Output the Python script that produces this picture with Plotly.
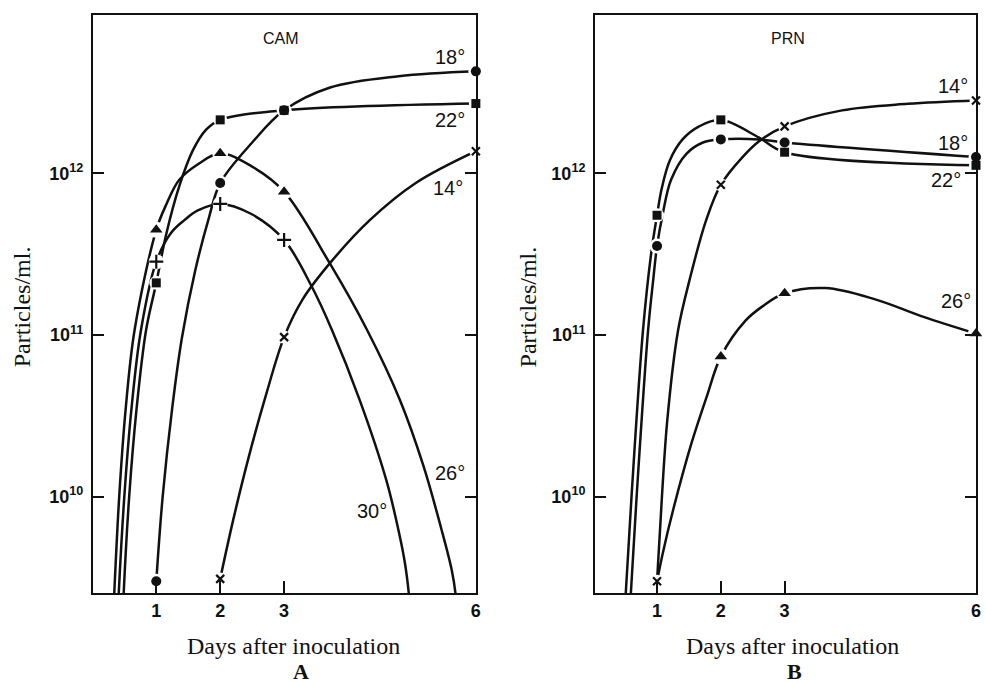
import plotly.graph_objects as go

# ---------------- values ----------------
day_ticks = [1, 2, 3, 6]
day_tick_labels = ["1", "2", "3", "6"]
y_tick_vals = [1e10, 1e11, 1e12]
y_tick_labels = ["10<sup>10</sup>", "10<sup>11</sup>", "10<sup>12</sup>"]

# Panel A (CAM): measured points
a18_days = [1, 2, 3, 6]
a18_vals = [3.0e9, 8.7e11, 2.45e12, 4.27e12]
a22_days = [1, 2, 3, 6]
a22_vals = [2.1e11, 2.14e12, 2.45e12, 2.7e12]
a14_days = [2, 3, 6]
a14_vals = [3.1e9, 9.7e10, 1.37e12]
a26_days = [1, 2, 3]
a26_vals = [4.47e11, 1.33e12, 7.7e11]
a30_days = [1, 2, 3]
a30_vals = [2.84e11, 6.46e11, 3.87e11]

# Panel A: hand-drawn curves
a18_curve_days = [1.0, 1.10, 1.25, 1.40, 1.61, 1.82, 2.0, 2.5, 3.0, 3.72, 4.79, 6.0]
a18_curve_vals = [3.0e9, 1.0e10, 3.55e10, 9.55e10, 2.51e11, 5.25e11, 8.7e11,
                  1.55e12, 2.45e12, 3.39e12, 3.98e12, 4.27e12]
a22_curve_days = [0.45, 0.49, 0.576, 0.69, 0.84, 1.0, 1.16, 1.36, 1.57, 1.78, 2.0, 3.0, 6.0]
a22_curve_vals = [1.0e9, 2.54e9, 1.0e10, 3.44e10, 1.07e11, 2.1e11, 4.27e11, 8.32e11,
                  1.38e12, 1.86e12, 2.14e12, 2.45e12, 2.7e12]
a14_curve_days = [2.0, 2.2, 2.45, 2.71, 3.0, 3.29, 3.73, 4.34, 5.06, 6.0]
a14_curve_vals = [3.1e9, 7.08e9, 1.78e10, 4.17e10, 9.7e10, 1.66e11, 2.82e11,
                  5.13e11, 8.71e11, 1.37e12]
a26_curve_days = [0.30, 0.343, 0.42, 0.52, 0.66, 1.0, 1.16, 1.36, 1.67, 2.0, 2.5, 3.0,
                  3.72, 4.30, 4.81, 5.18, 5.46, 5.62, 5.68, 5.72]
a26_curve_vals = [1.0e9, 2.54e9, 1.0e10, 3.44e10, 1.07e11, 4.47e11, 6.46e11, 9.12e11,
                  1.15e12, 1.33e12, 1.10e12, 7.7e11, 2.75e11, 1.07e11, 3.98e10,
                  1.55e10, 6.31e9, 3.55e9, 2.54e9, 1.58e9]
a30_curve_days = [0.37, 0.413, 0.50, 0.61, 0.76, 1.0, 1.23, 1.44, 1.65, 2.0, 2.48, 3.0,
                  3.43, 3.75, 4.18, 4.60, 4.79, 4.89, 4.95, 4.99]
a30_curve_vals = [1.0e9, 2.54e9, 1.0e10, 3.44e10, 1.07e11, 2.84e11, 4.27e11, 5.13e11,
                  5.89e11, 6.46e11, 5.62e11, 3.87e11, 2.0e11, 1.07e11, 3.98e10,
                  1.26e10, 6.17e9, 3.89e9, 2.54e9, 1.58e9]

# Panel B (PRN): measured points
b14_days = [1, 2, 3, 6]
b14_vals = [3.0e9, 8.5e11, 1.95e12, 2.82e12]
b18_days = [1, 2, 3, 6]
b18_vals = [3.55e11, 1.62e12, 1.55e12, 1.26e12]
b22_days = [1, 2, 3, 6]
b22_vals = [5.5e11, 2.14e12, 1.35e12, 1.12e12]
b26_days = [2, 3, 6]
b26_vals = [7.35e10, 1.81e11, 1.02e11]

# Panel B: hand-drawn curves
b14_curve_days = [1.0, 1.04, 1.16, 1.33, 1.51, 1.77, 2.0, 2.34, 2.6, 3.0, 3.9, 4.93, 6.0]
b14_curve_vals = [3.0e9, 5.62e9, 2.95e10, 1.07e11, 2.19e11, 5.13e11, 8.5e11, 1.26e12,
                  1.58e12, 1.95e12, 2.45e12, 2.69e12, 2.82e12]
b18_curve_days = [0.53, 0.59, 0.68, 0.86, 0.94, 1.0, 1.09, 1.22, 1.46, 1.72, 2.0, 2.6, 3.0, 6.0]
b18_curve_vals = [1.0e9, 2.54e9, 1.0e10, 1.07e11, 2.19e11, 3.55e11, 5.62e11, 9.12e11,
                  1.32e12, 1.55e12, 1.62e12, 1.62e12, 1.55e12, 1.26e12]
b22_curve_days = [0.45, 0.51, 0.60, 0.78, 0.91, 1.0, 1.07, 1.20, 1.40, 1.66, 2.0, 2.6, 3.0, 6.0]
b22_curve_vals = [1.0e9, 2.54e9, 1.0e10, 1.07e11, 3.24e11, 5.5e11, 7.94e11, 1.20e12,
                  1.62e12, 1.95e12, 2.14e12, 1.66e12, 1.35e12, 1.12e12]
b26_curve_days = [1.0, 1.09, 1.26, 1.54, 1.78, 2.0, 2.39, 2.65, 3.0, 3.64, 4.42, 5.19, 6.0]
b26_curve_vals = [3.0e9, 4.47e9, 8.5e9, 2.14e10, 4.17e10, 7.35e10, 1.23e11, 1.50e11,
                  1.81e11, 1.95e11, 1.66e11, 1.29e11, 1.02e11]

# ---------------- styling ----------------
INK = "#111111"
symbols = {
    "18": dict(symbol="circle", size=10),
    "22": dict(symbol="square", size=9),
    "26": dict(symbol="triangle-up", size=11),
    "30": dict(symbol="cross-thin", size=10, line=dict(color=INK, width=2.2)),
    "14": dict(symbol="x-thin", size=8, line=dict(color=INK, width=2.2)),
}

panelA = [
    ("18", a18_days, a18_vals, a18_curve_days, a18_curve_vals),
    ("22", a22_days, a22_vals, a22_curve_days, a22_curve_vals),
    ("14", a14_days, a14_vals, a14_curve_days, a14_curve_vals),
    ("26", a26_days, a26_vals, a26_curve_days, a26_curve_vals),
    ("30", a30_days, a30_vals, a30_curve_days, a30_curve_vals),
]
panelB = [
    ("14", b14_days, b14_vals, b14_curve_days, b14_curve_vals),
    ("18", b18_days, b18_vals, b18_curve_days, b18_curve_vals),
    ("22", b22_days, b22_vals, b22_curve_days, b22_curve_vals),
    ("26", b26_days, b26_vals, b26_curve_days, b26_curve_vals),
]

fig = go.Figure()

for panel, xa, ya in [(panelA, "x", "y"), (panelB, "x2", "y2")]:
    for key, d, v, cd, cv in panel:
        fig.add_trace(go.Scatter(x=cd, y=cv, mode="lines", xaxis=xa, yaxis=ya,
                                 line=dict(color=INK, width=2.5, shape="spline", smoothing=1.0),
                                 hoverinfo="skip"))
    for key, d, v, cd, cv in panel:
        m = symbols[key]
        fig.add_trace(go.Scatter(x=d, y=v, mode="markers", xaxis=xa, yaxis=ya, cliponaxis=False,
                                 marker=dict(symbol="circle", size=m["size"] + 5, color="white"),
                                 hoverinfo="skip"))
    for key, d, v, cd, cv in panel:
        m = dict(symbols[key])
        m.setdefault("color", INK)
        m.setdefault("line", dict(width=0))
        fig.add_trace(go.Scatter(x=d, y=v, mode="markers", xaxis=xa, yaxis=ya, cliponaxis=False,
                                 marker=m, name=key + "°"))

tickfont = dict(family="Liberation Sans", size=18, color=INK, weight="bold")
xcommon = dict(tickvals=day_ticks, ticktext=day_tick_labels, ticks="inside", ticklen=12,
               tickwidth=2.3, tickcolor=INK, showline=True, linewidth=2.3, linecolor=INK,
               mirror=True, showgrid=False, zeroline=False, tickfont=tickfont,
               ticklabelstandoff=0)
ycommon = dict(type="log", range=[9.404, 12.979], tickvals=y_tick_vals, ticktext=y_tick_labels,
               ticks="inside", ticklen=11, tickwidth=2.3, tickcolor=INK, showline=True,
               linewidth=2.3, linecolor=INK, mirror="ticks", showgrid=False, zeroline=False,
               tickfont=tickfont, ticklabelstandoff=4)

fig.update_layout(
    width=986, height=683,
    margin=dict(l=93, r=5, t=15, b=90),
    paper_bgcolor="white", plot_bgcolor="white",
    showlegend=False,
    xaxis=dict(domain=[0, 0.4336], range=[0.01, 6.0], anchor="y", **xcommon),
    yaxis=dict(domain=[0, 1], anchor="x", **ycommon),
    xaxis2=dict(domain=[0.5687, 1], range=[0.03, 6.0], anchor="y2", **xcommon),
    yaxis2=dict(domain=[0, 1], anchor="x2", **ycommon),
)

serif = dict(family="Liberation Serif", size=24, color=INK)
sans_lbl = dict(family="Liberation Sans", size=20, color=INK)
ann = []
# panel titles and axis titles (paper coordinates)
for txt, x, y, f, ang in [
    ("CAM", 0.2132, 0.9585, dict(family="Liberation Sans", size=16, color=INK), 0),
    ("PRN", 0.7875, 0.9585, dict(family="Liberation Sans", size=16, color=INK), 0),
    ("Particles/ml.", -0.080, 0.495, serif, -90),
    ("Particles/ml.", 0.4921, 0.495, serif, -90),
    ("Days after inoculation", 0.2275, -0.0915, serif, 0),
    ("Days after inoculation", 0.7917, -0.0915, serif, 0),
    ("<b>A</b>", 0.2354, -0.1355, dict(family="Liberation Serif", size=22, color=INK), 0),
    ("<b>B</b>", 0.795, -0.1355, dict(family="Liberation Serif", size=22, color=INK), 0),
]:
    ann.append(dict(text=txt, x=x, y=y, xref="paper", yref="paper", showarrow=False,
                    font=f, textangle=ang, xanchor="center", yanchor="middle"))

# temperature labels (data coordinates; log axis uses exponent)
for txt, x, y, xr, yr in [
    ("18°", 5.6, 12.72, "x", "y"), ("22°", 5.6, 12.33, "x", "y"),
    ("14°", 5.57, 11.91, "x", "y"), ("26°", 5.6, 10.145, "x", "y"),
    ("30°", 4.37, 9.91, "x", "y"),
    ("14°", 5.64, 12.54, "x2", "y2"), ("18°", 5.64, 12.19, "x2", "y2"),
    ("22°", 5.53, 11.96, "x2", "y2"), ("26°", 5.69, 11.21, "x2", "y2"),
]:
    ann.append(dict(text=txt, x=x, y=y, xref=xr, yref=yr, showarrow=False, font=sans_lbl,
                    xanchor="center", yanchor="middle"))

fig.update_layout(annotations=ann)
fig.write_html("out.html", config={"displayModeBar": False},
               post_script="document.body.style.margin='0px';document.body.style.overflow='hidden';")
